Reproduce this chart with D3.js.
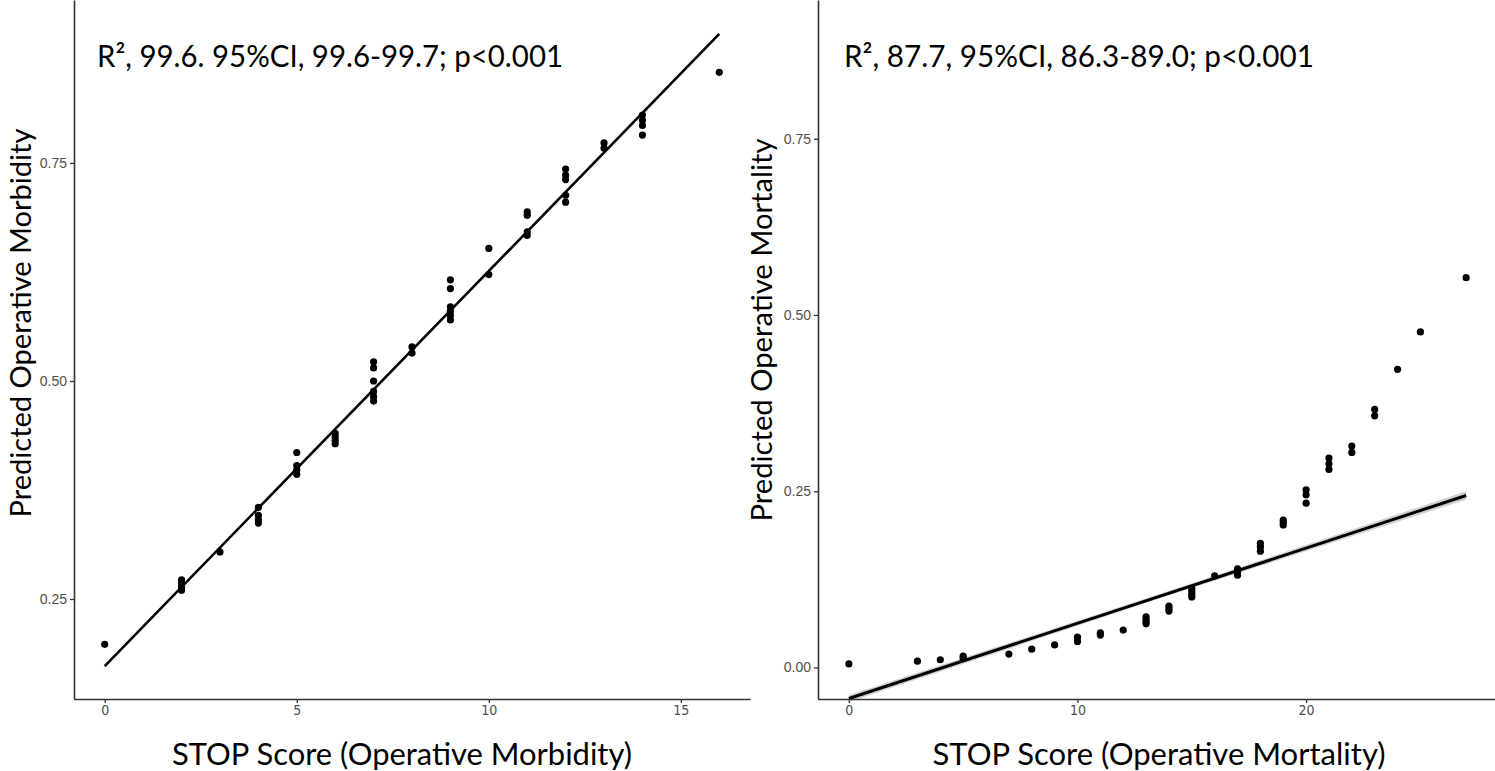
<!DOCTYPE html>
<html>
<head>
<meta charset="utf-8">
<script src="https://cdn.jsdelivr.net/npm/d3@7"></script>
<style>
  html, body { margin: 0; padding: 0; background: #fff; }
  svg { display: block; }
</style>
</head>
<body>
<svg id="chart" width="1495" height="771"></svg>
<script>
// ---------- Data ----------
// Left panel: STOP score (operative morbidity) vs predicted operative morbidity
const morbX = [0, 2,2,2,2, 3, 4,4,4,4, 5,5,5,5, 6,6,6,6, 7,7,7,7,7,7, 8,8,
  9,9,9,9,9,9, 10,10, 11,11,11,11, 12,12,12,12,12, 13,13, 14,14,14,14, 16];
const morbY = [0.198, 0.272,0.268,0.264,0.260, 0.304, 0.355,0.346,0.341,0.337,
  0.418,0.403,0.398,0.393, 0.440,0.436,0.432,0.428,
  0.522,0.515,0.500,0.488,0.482,0.477, 0.539,0.532,
  0.616,0.606,0.585,0.580,0.575,0.570, 0.652,0.622,
  0.694,0.690,0.671,0.667, 0.743,0.736,0.731,0.713,0.705,
  0.773,0.767, 0.805,0.799,0.793,0.782, 0.854];
const morbFitX = [0, 16];
const morbFitY = [0.173, 0.898];

// Right panel: STOP score (operative mortality) vs predicted operative mortality
const mortX = [0, 3, 4, 5,5, 7, 8, 9, 10,10, 11,11, 12, 13,13,13,13, 14,14,14,
  15,15,15,15, 16, 17,17,17, 18,18,18, 19,19,19, 20,20,20, 21,21,21, 22,22,
  23,23, 24, 25, 27];
const mortY = [0.005, 0.009, 0.011, 0.016,0.013, 0.019, 0.026, 0.032, 0.043,0.037,
  0.049,0.046, 0.053, 0.072,0.068,0.065,0.062, 0.087,0.083,0.080,
  0.112,0.108,0.104,0.100, 0.130, 0.140,0.136,0.131, 0.176,0.171,0.165,
  0.209,0.205,0.202, 0.252,0.245,0.233, 0.297,0.289,0.281, 0.314,0.305,
  0.366,0.357, 0.423, 0.476, 0.553];
const mortFitX = [0, 27];
const mortFitY = [-0.044, 0.244];
const mortBandX = [0, 13.5, 27];
const mortBandLo = [-0.049, 0.097, 0.238];
const mortBandHi = [-0.039, 0.103, 0.250];

// Tick labels
const morbXTicks = [0, 5, 10, 15];
const morbYTicks = [0.25, 0.50, 0.75];
const mortXTicks = [0, 10, 20];
const mortYTicks = [0.00, 0.25, 0.50, 0.75];

// Texts
const morbAnnot = "R², 99.6. 95%CI, 99.6-99.7; p<0.001";
const mortAnnot = "R², 87.7, 95%CI, 86.3-89.0; p<0.001";
const morbXTitle = "STOP Score (Operative Morbidity)";
const morbYTitle = "Predicted Operative Morbidity";
const mortXTitle = "STOP Score (Operative Mortality)";
const mortYTitle = "Predicted Operative Mortality";

// ---------- Drawing ----------
const svg = d3.select("#chart");
svg.append("rect").attr("width", 1495).attr("height", 771).attr("fill", "#fff");

const bigFont = "Lato, 'Open Sans', 'Noto Sans', sans-serif";
const tickFontY = "'Liberation Sans', Arial, sans-serif";
const tickFontX = "'Liberation Sans Narrow', 'DejaVu Sans Condensed', 'Liberation Sans', sans-serif";

function panel(cfg) {
  const g = svg.append("g");
  const x = d3.scaleLinear().domain(cfg.xDomain).range(cfg.xRange);
  const y = d3.scaleLinear().domain(cfg.yDomain).range(cfg.yRange);

  // CI band
  if (cfg.bandX) {
    const area = d3.area()
      .x((d, i) => x(cfg.bandX[i]))
      .y0((d, i) => y(cfg.bandLo[i]))
      .y1((d, i) => y(cfg.bandHi[i]));
    g.append("path").datum(cfg.bandX).attr("d", area)
      .attr("fill", "#999").attr("fill-opacity", 0.45);
  }

  // points
  g.append("g").selectAll("circle").data(cfg.px).join("circle")
    .attr("cx", (d, i) => x(cfg.px[i]))
    .attr("cy", (d, i) => y(cfg.py[i]))
    .attr("r", 3.6)
    .attr("fill", "#000");

  // fit line
  const line = d3.line().x((d, i) => x(cfg.fx[i])).y((d, i) => y(cfg.fy[i]));
  g.append("path").datum(cfg.fx).attr("d", line)
    .attr("fill", "none").attr("stroke", "#000").attr("stroke-width", cfg.lw);

  // axes
  const xAxis = d3.axisBottom(x).tickValues(cfg.xTicks).tickSizeInner(4).tickSizeOuter(0)
    .tickPadding(2).tickFormat(d3.format("d"));
  const yAxis = d3.axisLeft(y).tickValues(cfg.yTicks).tickSizeInner(4).tickSizeOuter(0)
    .tickPadding(3).tickFormat(d3.format(".2f"));

  const gx = g.append("g").attr("transform", `translate(0,${cfg.yRange[0]})`).call(xAxis);
  const gy = g.append("g").attr("transform", `translate(${cfg.xRange[0]},0)`).call(yAxis);
  [gx, gy].forEach(a => {
    a.select(".domain").attr("stroke", "#333").attr("stroke-width", 1.6);
    a.selectAll(".tick line").attr("stroke", "#333").attr("stroke-width", 1.3);
  });
  gx.selectAll(".tick text").attr("fill", "#4d4d4d")
    .style("font-family", tickFontX).style("font-size", "14px");
  gy.selectAll(".tick text").attr("fill", "#4d4d4d")
    .style("font-family", tickFontY).style("font-size", "14px");

  // annotation
  g.append("text").attr("x", cfg.annot.x).attr("y", cfg.annot.y)
    .attr("textLength", cfg.annot.w).attr("lengthAdjust", "spacingAndGlyphs")
    .style("font-family", bigFont).style("font-size", "30px").attr("fill", "#000")
    .text(cfg.annot.text);

  // x title
  g.append("text").attr("x", cfg.xt.x).attr("y", cfg.xt.y)
    .attr("text-anchor", "middle")
    .attr("textLength", cfg.xt.w).attr("lengthAdjust", "spacingAndGlyphs")
    .style("font-family", bigFont).style("font-size", "31px").attr("fill", "#000")
    .text(cfg.xt.text);

  // y title
  g.append("text")
    .attr("transform", `translate(${cfg.yt.x},${cfg.yt.y}) rotate(-90)`)
    .attr("text-anchor", "middle")
    .attr("textLength", cfg.yt.w).attr("lengthAdjust", "spacingAndGlyphs")
    .style("font-family", bigFont).style("font-size", "29px").attr("fill", "#000")
    .text(cfg.yt.text);
}

panel({
  xDomain: [-0.8, 16.8], xRange: [74, 750],
  yDomain: [0.1353, 0.9369], yRange: [699, 0],
  px: morbX, py: morbY, fx: morbFitX, fy: morbFitY, lw: 2.6,
  xTicks: morbXTicks, yTicks: morbYTicks,
  annot: { x: 97, y: 67, w: 466, text: morbAnnot },
  xt: { x: 402, y: 765, w: 460, text: morbXTitle },
  yt: { x: 31, y: 323, w: 389, text: morbYTitle }
});

panel({
  xDomain: [-1.35, 28.35], xRange: [818, 1497],
  yDomain: [-0.0447, 0.9468], yRange: [699, 0],
  px: mortX, py: mortY, fx: mortFitX, fy: mortFitY, lw: 3,
  bandX: mortBandX, bandLo: mortBandLo, bandHi: mortBandHi,
  xTicks: mortXTicks, yTicks: mortYTicks,
  annot: { x: 844, y: 67, w: 470, text: mortAnnot },
  xt: { x: 1159, y: 765, w: 453, text: mortXTitle },
  yt: { x: 772, y: 330, w: 383, text: mortYTitle }
});
</script>
</body>
</html>
